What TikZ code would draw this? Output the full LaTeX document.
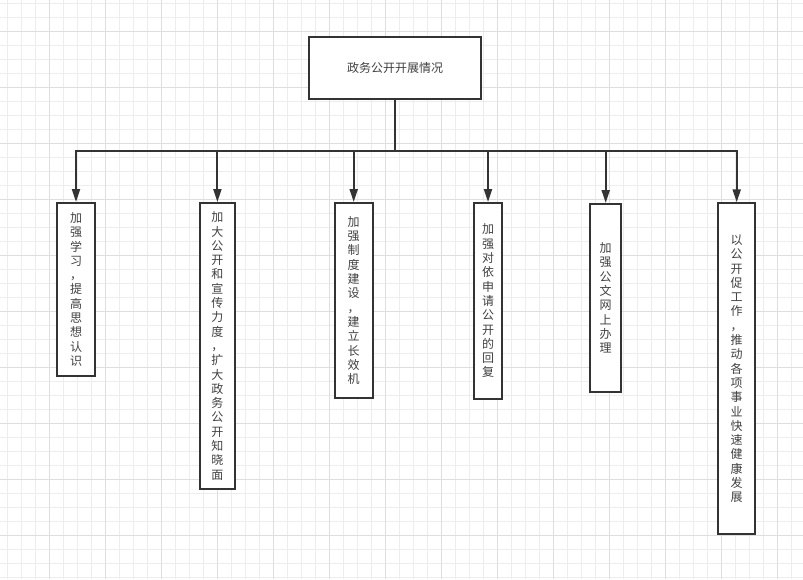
\documentclass[tikz,border=0pt]{standalone}
\usepackage{fontspec}
\setmainfont{Noto Sans CJK SC}
\usetikzlibrary{arrows.meta}
\definecolor{ink}{HTML}{333333}
\definecolor{txt}{HTML}{404040}
\definecolor{gridminor}{HTML}{EDEDED}
\definecolor{gridmajor}{HTML}{DEDEDE}
\begin{document}
\begin{tikzpicture}[x=1pt,y=-1pt,
  box/.style={draw=ink,line width=2pt,fill=white,inner sep=0pt,text=txt,
    font=\fontsize{12}{14.3}\selectfont,align=center},
  link/.style={draw=ink,line width=2pt},
  arrowlink/.style={link,-{Triangle[length=13pt,width=8pt]}}]
\useasboundingbox (0,0) rectangle (803,579);
\fill[white] (0,0) rectangle (803,579);
% grid
\foreach \i in {0,...,56} \draw[gridminor,line width=1pt] (7.3+14*\i,0) -- (7.3+14*\i,579);
\foreach \i in {0,...,41} \draw[gridminor,line width=1pt] (0,3.3+14*\i) -- (803,3.3+14*\i);
\foreach \i in {0,...,13} \draw[gridmajor,line width=1pt] (49.3+56*\i,0) -- (49.3+56*\i,579);
\foreach \i in {0,...,9} \draw[gridmajor,line width=1pt] (0,31.3+56*\i) -- (803,31.3+56*\i);
% nodes
\node[box,minimum width=172pt,minimum height=62pt] (main) at (395,68) {政务公开开展情况};
\node[box,minimum width=38pt,minimum height=173pt] (b1) at (76,289.5)
  {加\\强\\学\\习\\，\\提\\高\\思\\想\\认\\识};
\node[box,minimum width=34.7pt,minimum height=286pt] (b2) at (217.4,346)
  {加\\大\\公\\开\\和\\宣\\传\\力\\度\\，\\扩\\大\\政\\务\\公\\开\\知\\晓\\面};
\node[box,minimum width=38pt,minimum height=195pt] (b3) at (353.7,300.5)
  {加\\强\\制\\度\\建\\设\\，\\建\\立\\长\\效\\机};
\node[box,minimum width=28.6pt,minimum height=196pt] (b4) at (488,301)
  {加\\强\\对\\依\\申\\请\\公\\开\\的\\回\\复};
\node[box,minimum width=31.3pt,minimum height=188pt] (b5) at (605.7,298)
  {加\\强\\公\\文\\网\\上\\办\\理};
\node[box,minimum width=37.3pt,minimum height=331pt] (b6) at (736.7,368.8)
  {以\\公\\开\\促\\工\\作\\，\\推\\动\\各\\项\\事\\业\\快\\速\\健\\康\\发\\展};
% connectors
\coordinate (bar) at (395,151);
\draw[link] (main) -- (bar);
\foreach \n in {b1,b2,b3,b4,b5,b6} \draw[arrowlink] (bar) -| (\n);
\end{tikzpicture}
\end{document}
